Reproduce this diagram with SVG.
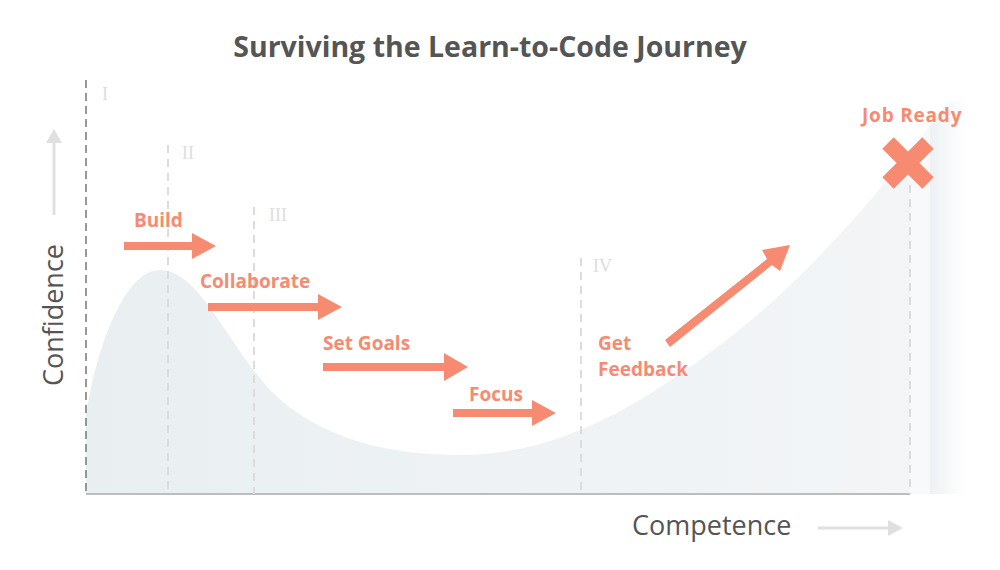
<svg xmlns="http://www.w3.org/2000/svg" width="1000" height="570" viewBox="0 0 1000 570">
<defs>
<style>
.title{font-family:"Open Sans","Liberation Sans",sans-serif;font-weight:700;font-size:28.5px;fill:#555}
.axis{font-family:"Open Sans","Liberation Sans",sans-serif;font-size:27px;fill:#555}
.lbl{font-family:"Open Sans","Liberation Sans",sans-serif;font-weight:700;font-size:19px;fill:#f68b72}
.rom{font-family:"Liberation Serif","DejaVu Serif",serif;font-size:18px;fill:#dedede}
.phase{stroke:#dcdcdc;stroke-width:2;stroke-dasharray:8 6;fill:none}
.arr{fill:#f68b72}
</style>
<linearGradient id="areaG" x1="86" y1="0" x2="930" y2="0" gradientUnits="userSpaceOnUse">
<stop offset="0" stop-color="#e9eff1"/>
<stop offset="1" stop-color="#f3f5f7"/>
</linearGradient>
<linearGradient id="stripG" x1="930" y1="0" x2="966" y2="0" gradientUnits="userSpaceOnUse">
<stop offset="0" stop-color="#edf1f3"/>
<stop offset="1" stop-color="#ffffff"/>
</linearGradient>
<clipPath id="areaClip">
<path d="M86,494 L86,415 C100,330 130,268 161,270 C200,272 225,340 270,390 C320,440 390,455 460,455 C560,455 640,405 720,345 C800,285 880,195 945,105 L968,95 L968,494 Z"/>
</clipPath>
</defs>
<rect width="1000" height="570" fill="#ffffff"/>
<text class="title" x="490" y="57" text-anchor="middle">Surviving the Learn-to-Code Journey</text>
<g id="area" clip-path="url(#areaClip)">
<rect x="86" y="80" width="844" height="414" fill="url(#areaG)"/>
<rect x="910" y="80" width="20" height="414" fill="#f8f9fa"/>
<rect x="930" y="80" width="38" height="414" fill="url(#stripG)"/>
</g>
<g id="axes">
<line x1="86" y1="494" x2="910" y2="494" stroke="#bdbdbd" stroke-width="2"/>
<line x1="86" y1="80" x2="86" y2="494" stroke="#777" stroke-width="1.5" stroke-dasharray="8 5"/>
<line x1="54" y1="215" x2="54" y2="142" stroke="#e0e0e0" stroke-width="3"/>
<polygon points="46,143 62,143 54,129" fill="#e0e0e0"/>
<text class="axis" transform="translate(63,315) rotate(-90)" text-anchor="middle">Confidence</text>
<text class="axis" x="632" y="535">Competence</text>
<line x1="818" y1="528" x2="889" y2="528" stroke="#e0e0e0" stroke-width="3"/>
<polygon points="888,520 888,536 903,528" fill="#e0e0e0"/>
</g>
<g id="phases">
<line class="phase" x1="168" y1="145" x2="168" y2="494"/>
<line class="phase" x1="254" y1="207" x2="254" y2="494"/>
<line class="phase" x1="581" y1="258" x2="581" y2="494"/>
<line class="phase" x1="910" y1="185" x2="910" y2="494"/>
<text class="rom" x="102" y="100">I</text>
<text class="rom" x="182" y="159">II</text>
<text class="rom" x="269" y="221">III</text>
<text class="rom" x="593" y="272">IV</text>
</g>
<g id="connectors">
<polygon class="arr" points="124,242 192,242 192,233 216,246 192,259 192,250 124,250"/>
<polygon class="arr" points="208,303 318,303 318,294 342,307 318,320 318,311 208,311"/>
<polygon class="arr" points="323,363 444,363 444,353 468,367 444,381 444,371 323,371"/>
<polygon class="arr" points="453,409 532,409 532,400 556,413 532,426 532,417 453,417"/>
<polygon class="arr" points="665,340 767,259 762,250 790,245 780,271 772,265 670,347"/>
</g>
<g id="node-build"><text class="lbl" x="134" y="227">Build</text></g>
<g id="node-collaborate"><text class="lbl" x="200" y="288">Collaborate</text></g>
<g id="node-setgoals"><text class="lbl" x="323" y="350">Set Goals</text></g>
<g id="node-focus"><text class="lbl" x="469" y="401">Focus</text></g>
<g id="node-feedback"><text class="lbl" x="598" y="350">Get</text><text class="lbl" x="598" y="376">Feedback</text></g>
<g id="node-jobready">
<text class="lbl" x="862" y="122" letter-spacing="0.8">Job Ready</text>
<line x1="888" y1="143" x2="928" y2="183" stroke="#f68b72" stroke-width="16"/>
<line x1="928" y1="143" x2="888" y2="183" stroke="#f68b72" stroke-width="16"/>
</g>
</svg>
